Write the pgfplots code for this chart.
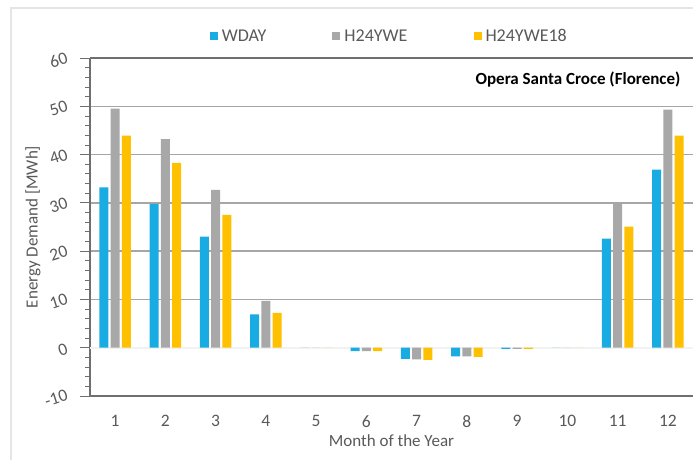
\documentclass[border=0pt]{standalone}
\usepackage{pgfplots}
\pgfplotsset{compat=1.18}
\usepackage{fontspec}
\setmainfont{Carlito}
\definecolor{cBlue}{HTML}{19ACE2}
\definecolor{cGray}{HTML}{A8A8A8}
\definecolor{cYel}{HTML}{FFC000}
\definecolor{cText}{HTML}{595959}
\definecolor{cGrid}{HTML}{A6A6A6}
\definecolor{cAxis}{HTML}{6F6F6F}
\begin{document}
\begin{tikzpicture}[x=1pt,y=1pt]
\useasboundingbox (0,0) rectangle (693,459);
\draw[color=black!10, line width=1.2pt] (11,-5) -- (11,451) -- (700,451);
\begin{axis}[
  at={(90pt,63pt)}, anchor=south west,
  scale only axis, width=603pt, height=338pt,
  xmin=0.5, xmax=12.5, ymin=-10, ymax=60,
  ybar=2.2pt, bar width=9pt,
  axis x line=box, axis y line*=left,
  axis line style={-, color=cAxis, line width=1.4pt},
  xtick={1,...,12},
  ytick={-10,0,10,20,30,40,50,60},
  minor y tick num=4,
  major x tick style={draw=none},
  y tick style={color=cAxis, line width=0.8pt},
  tick align=outside,
  major tick length=10pt, minor tick length=5pt,
  ymajorgrids=true,
  major grid style={color=cGrid, line width=1.3pt},
  /pgf/number format/assume math mode=true,
  tick label style={font=\fontsize{17.5}{20}\selectfont, text=cText},
  yticklabel style={rotate=18, xshift=-7pt},
  xticklabel style={yshift=-6pt},
  xlabel={Month of the Year},
  ylabel={Energy Demand [MWh]},
  label style={font=\fontsize{17}{20}\selectfont, text=cText},
  xlabel style={at={(axis description cs:0.5,-0.133)}, anchor=center},
  ylabel style={at={(axis description cs:-0.0945,0.5)}, anchor=center},
  legend style={at={(0.498,1.065)}, anchor=center, draw=none, fill=none,
    legend columns=-1, font=\fontsize{18}{20}\selectfont, text=cText,
    nodes={inner xsep=4pt},
    /tikz/every even column/.append style={column sep=62pt}},
  legend image code/.code={\fill[#1] (0pt,-4pt) rectangle (8pt,4pt);},
]
\draw[color=black!5, line width=1.6pt] (axis cs:0.5,0) -- (axis cs:12.5,0);
\addplot[fill=cBlue, draw=none] coordinates {(1,33.2) (2,29.8) (3,23.0) (4,6.9) (5,0) (6,-0.7) (7,-2.3) (8,-1.8) (9,-0.25) (10,0) (11,22.6) (12,36.9)};
\addplot[fill=cGray, draw=none] coordinates {(1,49.5) (2,43.2) (3,32.7) (4,9.7) (5,0) (6,-0.7) (7,-2.4) (8,-1.8) (9,-0.25) (10,0) (11,29.9) (12,49.3)};
\addplot[fill=cYel, draw=none] coordinates {(1,43.9) (2,38.3) (3,27.5) (4,7.2) (5,0) (6,-0.7) (7,-2.5) (8,-1.9) (9,-0.25) (10,0) (11,25.1) (12,43.9)};
\legend{WDAY,H24YWE,H24YWE18}
\node[anchor=east, font=\bfseries\fontsize{17}{20}\selectfont, text=black] at (rel axis cs:0.985,0.935) {Opera Santa Croce (Florence)};
\end{axis}
\end{tikzpicture}
\end{document}
